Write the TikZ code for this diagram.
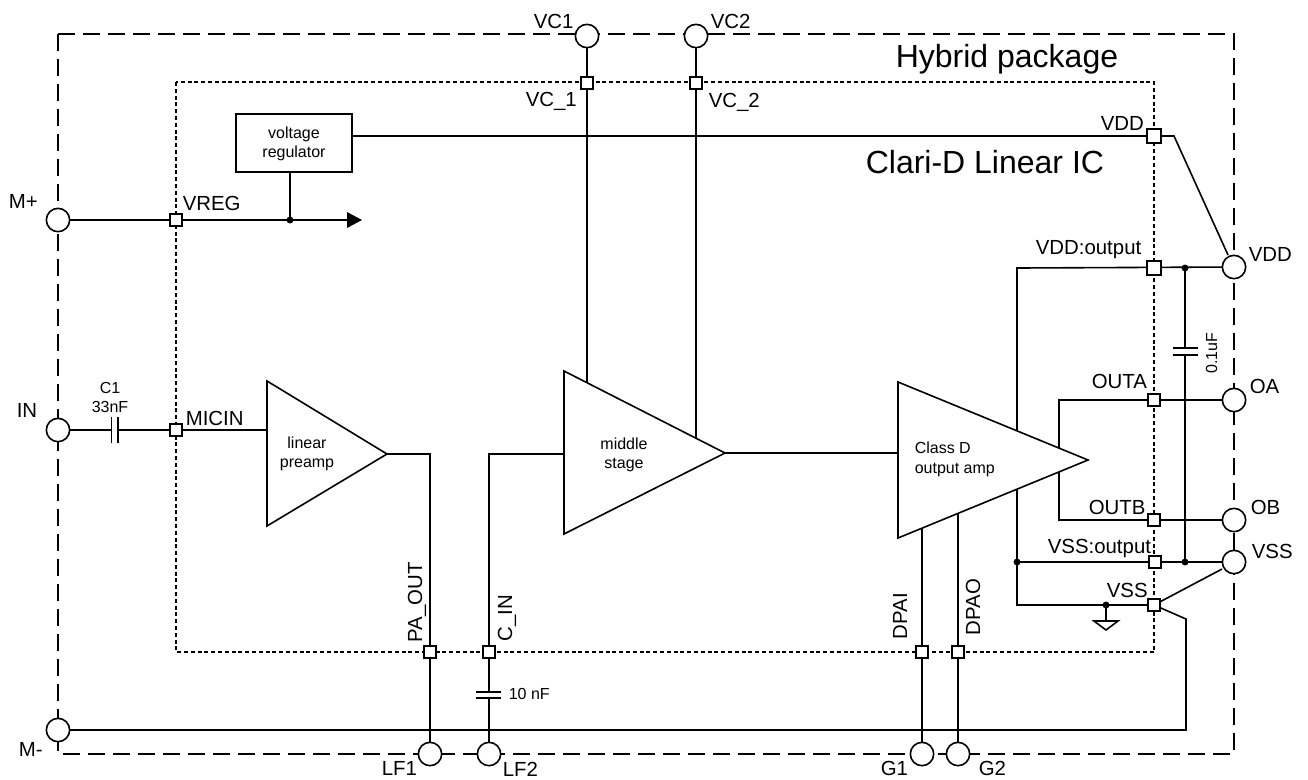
\documentclass[tikz,border=0pt]{standalone}
\usepackage{fontspec}
\setmainfont{Liberation Sans}
\begin{document}
\begin{tikzpicture}[x=0.75pt,y=-0.75pt,line width=1.2pt,
  pin/.style={circle,draw,fill=white,minimum size=17.5pt,inner sep=0pt,outer sep=0pt},
  pad/.style={rectangle,draw,fill=white,minimum size=8.8pt,inner sep=0pt,outer sep=0pt},
  padb/.style={pad,minimum size=10.5pt},
  junc/.style={circle,fill=black,minimum size=5.2pt,inner sep=0pt,outer sep=0pt},
  lab/.style={font=\fontsize{15.3}{18}\selectfont,inner sep=0pt,anchor=base west},
  small/.style={font=\fontsize{12}{14}\selectfont,inner sep=0pt,anchor=base},
  big/.style={font=\fontsize{24}{28}\selectfont,inner sep=0pt,anchor=base west}]
\useasboundingbox (0,0) rectangle (1308,779);
% package and die outlines
\draw[dash pattern=on 12.5pt off 6.25pt] (58,34) rectangle (1234,754);
\draw[line width=0.95pt,dash pattern=on 3pt off 2.1pt] (176,82) rectangle (1154,652);
% amplifier corners and tap points
\coordinate (pa1) at (267,381); \coordinate (pa2) at (267,526); \coordinate (pat) at (387,454);
\coordinate (ms1) at (564,371); \coordinate (ms2) at (564,534); \coordinate (mst) at (725,453);
\coordinate (cd1) at (898,382); \coordinate (cd2) at (898,538); \coordinate (cdt) at (1088,460);
\coordinate (mic) at (267,430); \coordinate (msin) at (564,454); \coordinate (cdin) at (898,453);
\coordinate (vc1e) at (587,383); \coordinate (vc2e) at (696,438);
\coordinate (vddE) at (1017,431); \coordinate (vssE) at (1017,489);
\coordinate (oaE) at (1059,448); \coordinate (obE) at (1059,472);
\coordinate (g1E) at (922,528); \coordinate (g2E) at (958,513);
% pins
\node[pin] (VC1) at (587,36) {}; \node[pin] (VC2) at (696,36) {};
\node[pin] (Mp) at (58,220) {}; \node[pin] (IN) at (58,430) {}; \node[pin] (Mm) at (58,730) {};
\node[pin] (LF1) at (430,754) {}; \node[pin] (LF2) at (489,754) {};
\node[pin] (G1) at (922,754) {}; \node[pin] (G2) at (958,754) {};
\node[pin] (VDD) at (1234,267) {}; \node[pin] (OA) at (1234,400) {};
\node[pin] (OB) at (1234,520) {}; \node[pin] (VSS) at (1234,562) {};
% wires
\draw (VC1) -- (vc1e);
\draw (VC2) -- (vc2e);
\coordinate (vreg) at (290,220); \coordinate (arrowend) at (350,220);
\node[draw,fill=white,minimum width=87pt,minimum height=43.5pt,inner sep=0pt,outer sep=0pt] (reg) at (294,143) {};
\draw (Mp) -- (arrowend);
\fill (362,220) -- (347,212) -- (347,228) -- cycle;
\draw (reg.south -| vreg) -- (vreg);
\draw (reg.east |- 0,136) -- (1174,136) -- (1228,255);
% capacitor C1
\coordinate (c1a) at (111.5,430); \coordinate (c1b) at (118,430);
\draw (IN) -- (c1a); \draw (c1b) -- (mic);
\draw (111.5,417) -- (111.5,443); \draw (118,417) -- (118,443);
% preamp and C_IN
\draw (pat) -- (430,454) -- (LF1);
\draw (msin) -- (489,454) -- (489,692);
\draw (489,698) -- (LF2);
\draw (476,692) -- (501,692); \draw (476,698) -- (501,698);
\draw (mst) -- (cdin);
\draw (g1E) -- (G1); \draw (g2E) -- (G2);
% outputs
\draw (vddE) -- (1017,268) -- (VDD);
\draw (oaE) -- (1059,400) -- (OA);
\draw (obE) -- (1059,520) -- (OB);
\draw (vssE) -- (1017,605) -- (1154,605);
\draw (1017,562) -- (VSS);
\coordinate (cvd) at (1185,268); \coordinate (cvs) at (1185,562);
\draw (cvd) -- (1185,348); \draw (1185,355) -- (cvs);
\draw (1173,348) -- (1198,348); \draw (1173,355) -- (1198,355);
\draw (1154,605) -- (1222,569);
\draw (1154,605) -- (1186,619) -- (1186,730) -- (Mm);
% ground
\coordinate (gnd) at (1106,605);
\draw (gnd) -- (1106,621);
\draw (1094,621) -- (1118,621) -- (1106,630) -- cycle;
% amplifiers
\draw[line join=miter,fill=white] (pa1) -- (pa2) -- (pat) -- cycle;
\draw[line join=miter,fill=white] (ms1) -- (ms2) -- (mst) -- cycle;
\draw[line join=miter,fill=white] (cd1) -- (cd2) -- (cdt) -- cycle;
% junctions
\node[junc] (j1) at (vreg) {}; \node[junc] (j2) at (cvd) {}; \node[junc] (j3) at (cvs) {};
\node[junc] (j4) at (1017,562) {}; \node[junc] (j5) at (gnd) {};
% pads
\node[pad] (pVC1) at (587,83) {}; \node[pad] (pVC2) at (696,83) {};
\node[padb] (pVDD) at (1154,136) {}; \node[pad] (pVREG) at (176,220) {};
\node[pad] (pMIC) at (176,430) {}; \node[padb] (pVDDo) at (1154,268) {};
\node[pad] (pOA) at (1154,400) {}; \node[pad] (pOB) at (1154,520) {};
\node[pad] (pVSSo) at (1155,562) {}; \node[pad] (pVSS) at (1154,605) {};
\node[pad] (pPA) at (430,652) {}; \node[pad] (pC) at (489,652) {};
\node[pad] (pDI) at (922,652) {}; \node[pad] (pDO) at (958,652) {};
% texts
\node[big] (t1) at (895,67) {Hybrid package};
\node[big] (t2) at (865,173) {Clari-D Linear IC};
\node[lab] (tVC1) at (533,28) {VC1};
\node[lab] (tVC2) at (710,28) {VC2};
\node[lab] (tVC_1) at (525,106) {VC\_1};
\node[lab] (tVC_2) at (708,107) {VC\_2};
\node[lab] (tVDDt) at (1100,130) {VDD};
\node[lab] (tVREG) at (182,210) {VREG};
\node[lab] (tMIC) at (185,425) {MICIN};
\node[lab] (tMp) at (8,208) {M+};
\node[lab] (tIN) at (16,417) {IN};
\node[lab] (tMm) at (18,756) {M-};
\node[lab] (tLF1) at (381,775) {LF1};
\node[lab] (tLF2) at (502,776) {LF2};
\node[lab] (tG1) at (880,775) {G1};
\node[lab] (tG2) at (978,775) {G2};
\node[lab] (tVDD) at (1248,261) {VDD};
\node[lab] (tOA) at (1249,393) {OA};
\node[lab] (tOB) at (1250,514) {OB};
\node[lab] (tVSS) at (1251,558) {VSS};
\node[lab] (tVDDo) at (1035,254) {VDD:output};
\node[lab] (tOUTA) at (1091,388) {OUTA};
\node[lab] (tOUTB) at (1088,514) {OUTB};
\node[lab] (tVSSo) at (1047,553) {VSS:output};
\node[lab] (tVSSi) at (1106,597) {VSS};
\node[lab,rotate=90] (tPA) at (422,643) {PA\_OUT};
\node[lab,rotate=90] (tC) at (512,642) {C\_IN};
\node[lab,rotate=90] (tDI) at (907,640) {DPAI};
\node[lab,rotate=90] (tDO) at (980,636) {DPAO};
\node[small] (tC1a) at (110,393) {C1};
\node[small] (tC1b) at (110,412) {33nF};
\node[small,anchor=base west] (t10) at (508,699) {10 nF};
\node[small,rotate=90,anchor=base] (t01) at (1217,353) {0.1uF};
\node[small] (tva) at (294,138) {voltage};
\node[small] (tvb) at (294,157) {regulator};
\node[small] (tpa) at (307,448) {linear};
\node[small] (tpb) at (307,467) {preamp};
\node[small] (tma) at (624,449) {middle};
\node[small] (tmb) at (624,468) {stage};
\node[small,anchor=base west] (tca) at (914,453) {Class D};
\node[small,anchor=base west] (tcb) at (914,473) {output amp};
\end{tikzpicture}
\end{document}
